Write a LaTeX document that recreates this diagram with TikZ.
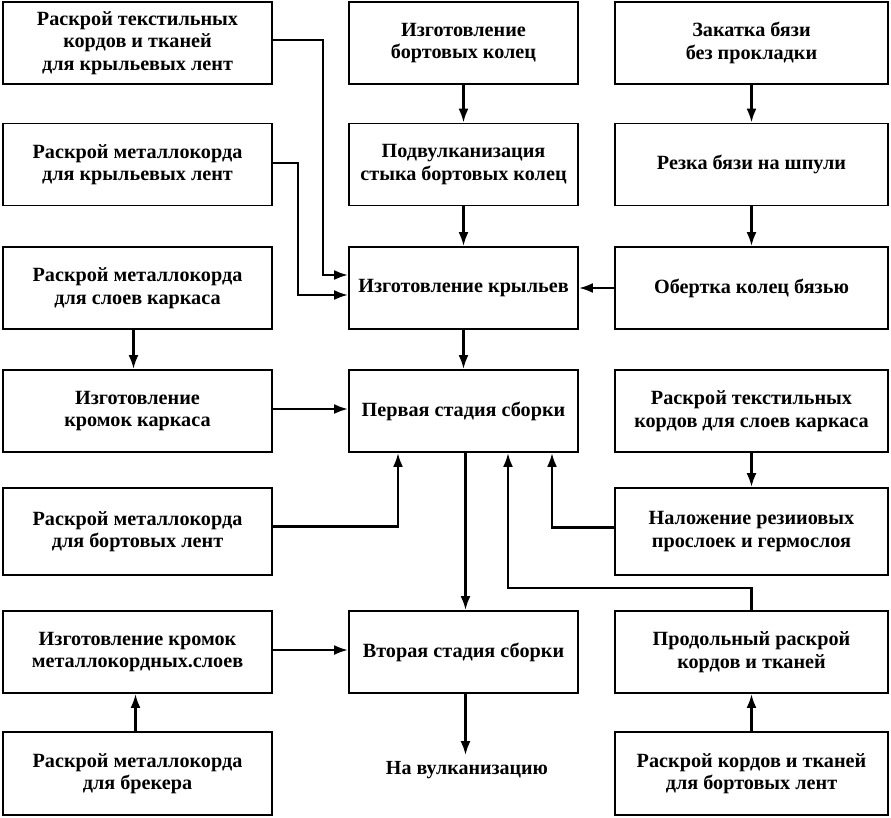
\documentclass[tikz,border=0pt]{standalone}
\usepackage{fontspec}
\setmainfont{Liberation Serif}
\usetikzlibrary{arrows.meta}
\tikzset{
  box/.style={draw, line width=1.9pt, align=center, inner sep=0pt, minimum height=82pt,
    font=\fontsize{20.2}{22.5}\selectfont\bfseries},
  lw/.style={box, minimum width=269pt},
  mw/.style={box, minimum width=229pt},
  rw/.style={box, minimum width=273pt},
  arr/.style={line width=2.4pt, -{Latex[length=14pt,width=10pt]}},
}
\begin{document}
\begin{tikzpicture}[x=1pt,y=-1pt]
\useasboundingbox (0,0) rectangle (891,817);
% left column
\node[lw] (L1) at (137.5,43) {Раскрой текстильных\\кордов и тканей\\для крыльевых лент};
\node[lw] (L2) at (137.5,164.5) {Раскрой металлокорда\\для крыльевых лент};
\node[lw] (L3) at (137.5,288) {Раскрой металлокорда\\для слоев каркаса};
\node[lw] (L4) at (137.5,411) {Изготовление\\кромок каркаса};
\node[lw, minimum height=87pt] (L5) at (137.5,531.5) {Раскрой металлокорда\\для бортовых лент};
\node[lw] (L6) at (137.5,652) {Изготовление кромок\\металлокордных.слоев};
\node[lw, minimum height=83pt] (L7) at (137.5,773.5) {Раскрой металлокорда\\для брекера};
% middle column
\node[mw] (M1) at (463.5,43) {Изготовление\\бортовых колец};
\node[mw] (M2) at (463.5,164.5) {Подвулканизация\\стыка бортовых колец};
\node[mw] (M3) at (463.5,288) {Изготовление крыльев};
\node[mw] (M4) at (463.5,411) {Первая стадия сборки};
\node[mw] (M6) at (463.5,652) {Вторая стадия сборки};
\node[font=\fontsize{20}{22}\selectfont\bfseries, inner sep=0pt] (V) at (467,770) {На вулканизацию};
% right column
\node[rw] (R1) at (751.5,43) {Закатка бязи\\без прокладки};
\node[rw] (R2) at (751.5,164.5) {Резка бязи на шпули};
\node[rw] (R3) at (751.5,288) {Обертка колец бязью};
\node[rw] (R4) at (751.5,411) {Раскрой текстильных\\кордов для слоев каркаса};
\node[rw, minimum height=87pt] (R5) at (751.5,531.5) {Наложение резииовых\\прослоек и гермослоя};
\node[rw] (R6) at (751.5,652) {Продольный раскрой\\кордов и тканей};
\node[rw, minimum height=83pt] (R7) at (751.5,773.5) {Раскрой кордов и тканей\\для бортовых лент};
% connectors
\draw[arr] ([yshift=3pt]L1.east) -- ++(50,0) |- ([yshift=13pt]M3.west);
\draw[arr] ([yshift=1.5pt]L2.east) -- ++(25,0) |- ([yshift=-7pt]M3.west);
\draw[arr] (M1.south) -- (M2.north);
\draw[arr] (M2.south) -- (M3.north);
\draw[arr] (R1.south) -- (R2.north);
\draw[arr] (R2.south) -- (R3.north);
\draw[arr] (R3.west) -- (M3.east);
\draw[arr] ([xshift=-4pt]L3.south) -- ([xshift=-4pt]L4.north);
\draw[arr] (M3.south) -- (M4.north);
\draw[arr] ([yshift=2pt]L4.east) -- ([yshift=2pt]M4.west);
\draw[arr] ([yshift=5pt]L5.east) -| ([xshift=-65.5pt]M4.south);
\draw[arr] (R4.south) -- (R5.north);
\draw[arr] ([yshift=4pt]R5.west) -| ([xshift=88.5pt]M4.south);
\draw[arr] (R6.north) -- ++(0,-22) -| ([xshift=44.5pt]M4.south);
\draw[arr] ([xshift=2pt]M4.south) -- ([xshift=2pt]M6.north);
\draw[arr] ([yshift=2pt]L6.east) -- ([yshift=2pt]M6.west);
\draw[arr] ([xshift=-2pt]L7.north) -- ([xshift=-2pt]L6.south);
\draw[arr] (R7.north) -- (R6.south);
\draw[arr] ([xshift=2pt]M6.south) -- ([xshift=-1.5pt,yshift=6pt]V.north);
\end{tikzpicture}
\end{document}
